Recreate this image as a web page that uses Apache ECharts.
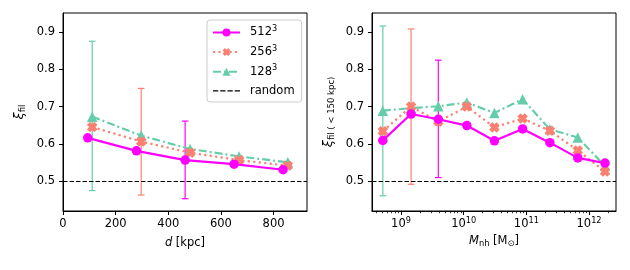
<!DOCTYPE html>
<html><head><meta charset="utf-8">
<script src="https://cdn.jsdelivr.net/npm/echarts@6/dist/echarts.min.js"></script>
<style>html,body{margin:0;padding:0;background:#fff}#c{width:630px;height:270px}</style>
</head><body><div id="c"></div>
<script>
// ---- Left panel data: xi_fil vs distance d [kpc]
const d512 = [94, 279, 464, 650, 836];
const xi512 = [0.616, 0.581, 0.556, 0.545, 0.530];
const d256 = [111, 297, 483, 669, 854];
const xi256 = [0.645, 0.606, 0.576, 0.556, 0.541];
const d128 = [111, 297, 483, 669, 854];
const xi128 = [0.673, 0.622, 0.586, 0.566, 0.550];
// error bars [d, low, high]
const errD128 = [111, 0.474, 0.876];
const errD256 = [297, 0.462, 0.749];
const errD512 = [464, 0.452, 0.661];

// ---- Right panel data: xi_fil(<150 kpc) vs log10 M_nh
const logMnh = [8.71, 9.16, 9.595, 10.05, 10.49, 10.94, 11.375, 11.82, 12.255];
const xiM512 = [0.609, 0.680, 0.666, 0.649, 0.608, 0.640, 0.603, 0.562, 0.548];
const xiM256 = [0.634, 0.700, 0.660, 0.700, 0.644, 0.668, 0.635, 0.582, 0.525];
const xiM128 = [0.689, 0.696, 0.701, 0.711, 0.683, 0.720, 0.639, 0.617, 0.540];
const errM128 = [8.71, 0.460, 0.917];
const errM256 = [9.16, 0.491, 0.909];
const errM512 = [9.595, 0.509, 0.825];

const randomLevel = 0.5;
const yTicks = [0.5, 0.6, 0.7, 0.8, 0.9];
const dTicks = [0, 200, 400, 600, 800];
const massDecades = [9, 10, 11, 12];
const minorMult = [2, 3, 4, 5, 6, 7, 8, 9];
const names = ['512', '256', '128', 'random'];

const C512 = '#ff00ff', C256 = '#fa8072', C128 = '#66cdaa';
const FONT = 'DejaVu Sans';
const xRangeL = [0, 927], xRangeR = [8.537, 12.43], yRange = [0.419, 0.952];

const minorTicks = [];
[8, 9, 10, 11, 12].forEach(n => minorMult.forEach(k => {
  const v = Math.log10(k) + n;
  if (v > xRangeR[0] && v < xRangeR[1]) minorTicks.push(v);
}));

const xShape = 'path://M-2,-5L0,-3L2,-5L5,-2L3,0L5,2L2,5L0,3L-2,5L-5,2L-3,0L-5,-2Z';
const dashIcon = 'path://M0,0h5.3v1.3h-5.3z M7.2,0h5.3v1.3h-5.3z M14.4,0h5.3v1.3h-5.3z M21.6,0h5.3v1.3h-5.3z';
const zip = (a, b) => a.map((v, i) => [v, b[i]]);

function errSeries(name, color, arr, xi, yi) {
  return {
    type: 'custom', name: name, xAxisIndex: xi, yAxisIndex: yi, z: 1,
    data: [arr], silent: true,
    renderItem: function (params, api) {
      const x = api.value(0), lo = api.value(1), hi = api.value(2);
      const a = api.coord([x, lo]), b = api.coord([x, hi]);
      const w = 3.3;
      const st = { stroke: color, lineWidth: 1.2, fill: null };
      return { type: 'group', children: [
        { type: 'line', shape: { x1: a[0], y1: a[1], x2: b[0], y2: b[1] }, style: st },
        { type: 'line', shape: { x1: a[0] - w, y1: a[1], x2: a[0] + w, y2: a[1] }, style: st },
        { type: 'line', shape: { x1: b[0] - w, y1: b[1], x2: b[0] + w, y2: b[1] }, style: st }
      ] };
    }
  };
}

function lineSeries(name, color, data, xi, yi, sym, dash, z) {
  return {
    type: 'line', name: name, xAxisIndex: xi, yAxisIndex: yi, z: z,
    data: data, symbol: sym, symbolSize: sym === 'circle' ? 9.5 : 10.5,
    showSymbol: true, animation: false,
    lineStyle: { color: color, width: 2.2, type: dash },
    itemStyle: { color: color, borderWidth: 0 }
  };
}

function randomSeries(xi, yi) {
  return {
    type: 'line', name: 'random', xAxisIndex: xi, yAxisIndex: yi, data: [], symbol: 'none', z: 0,
    lineStyle: { color: '#000', width: 1.2, type: [4.5, 2] },
    itemStyle: { color: '#000' },
    markLine: { silent: true, symbol: 'none', label: { show: false },
      lineStyle: { color: '#000', width: 1.2, type: [4.5, 2] },
      data: [{ yAxis: randomLevel }] }
  };
}

const axisLineStyle = { lineStyle: { color: '#000', width: 1 } };
const tickLabel = { color: '#000', fontFamily: FONT, fontSize: 11.5 };

function yAxis(gi, nameRich) {
  return {
    type: 'value', gridIndex: gi, min: yRange[0], max: yRange[1],
    axisLine: { show: true, ...axisLineStyle },
    axisTick: { show: true, length: 4, inside: false, customValues: yTicks, lineStyle: { color: '#000' } },
    axisLabel: { ...tickLabel, margin: 8, customValues: yTicks, formatter: v => v.toFixed(1) },
    splitLine: { show: false },
    name: nameRich, nameLocation: 'middle', nameRotate: 90, nameGap: 37,
    nameTextStyle: { color: '#000', fontFamily: FONT,
      rich: { i: { fontSize: 13, fontStyle: 'italic', fontFamily: FONT, color: '#000' },
              s: { fontSize: 8.5, fontFamily: FONT, color: '#000', padding: [0, 0, -6, 0] } } }
  };
}

const opt = {
  animation: false,
  textStyle: { fontFamily: FONT },
  grid: [
    { left: 63, top: 13, width: 244, height: 198, show: true, borderColor: '#000', borderWidth: 1, backgroundColor: 'transparent' },
    { left: 372, top: 13, width: 244, height: 198, show: true, borderColor: '#000', borderWidth: 1, backgroundColor: 'transparent' }
  ],
  xAxis: [
    { type: 'value', gridIndex: 0, min: xRangeL[0], max: xRangeL[1], position: 'bottom',
      axisLine: { show: true, ...axisLineStyle },
      axisTick: { show: true, length: 4, customValues: dTicks, lineStyle: { color: '#000' } },
      axisLabel: { ...tickLabel, margin: 7, customValues: dTicks },
      splitLine: { show: false },
      name: '{i|d} [kpc]', nameLocation: 'middle', nameGap: 26,
      nameTextStyle: { color: '#000', fontFamily: FONT, fontSize: 11.5,
        rich: { i: { fontStyle: 'italic', fontSize: 11.5, fontFamily: FONT, color: '#000' } } } },
    { type: 'value', gridIndex: 1, min: xRangeR[0], max: xRangeR[1], position: 'bottom',
      axisLine: { show: true, ...axisLineStyle },
      axisTick: { show: true, length: 4, customValues: massDecades, lineStyle: { color: '#000' } },
      axisLabel: { ...tickLabel, margin: 6, customValues: massDecades,
        formatter: v => '10{sup|' + Math.round(v) + '}',
        rich: { sup: { fontSize: 8.2, fontFamily: FONT, color: '#000', padding: [0, 0, 7, 0] } } },
      splitLine: { show: false },
      name: '{i|M}{s|nh} [M{s|⊙}]', nameLocation: 'middle', nameGap: 24,
      nameTextStyle: { color: '#000', fontFamily: FONT, fontSize: 11.5,
        rich: { i: { fontStyle: 'italic', fontSize: 11.5, fontFamily: FONT, color: '#000' },
                s: { fontSize: 8.3, fontFamily: FONT, color: '#000', padding: [0, 0, -4, 0] } } } },
    { type: 'value', gridIndex: 1, min: xRangeR[0], max: xRangeR[1], position: 'bottom', offset: 0,
      axisLine: { show: false },
      axisTick: { show: true, length: 2.2, customValues: minorTicks, lineStyle: { color: '#000', width: 0.8 } },
      axisLabel: { show: false }, splitLine: { show: false } }
  ],
  yAxis: [
    yAxis(0, '{i|ξ}{s|fil}'),
    yAxis(1, '{i|ξ}{s|fil ( < 150 kpc)}')
  ],
  legend: {
    data: names.map(n => n === 'random' ? { name: n, icon: dashIcon, itemStyle: { color: '#000' } } : n),
    orient: 'vertical', left: 207, top: 20,
    padding: [5, 7, 4, 5], itemGap: 5, itemWidth: 27, itemHeight: 10,
    backgroundColor: 'rgba(255,255,255,0.8)', borderColor: '#cccccc', borderWidth: 1, borderRadius: 3,
    formatter: n => n === 'random' ? n : n + '{sup|3}',
    textStyle: { color: '#000', fontFamily: FONT, fontSize: 11.5, lineHeight: 14.2, padding: [0, 0, 0, 5],
      rich: { sup: { fontSize: 8.2, fontFamily: FONT, color: '#000', padding: [0, 0, 7, 0] } } }
  },
  series: [
    randomSeries(0, 0),
    errSeries('e128', C128, errD128, 0, 0),
    errSeries('e256', C256, errD256, 0, 0),
    errSeries('e512', C512, errD512, 0, 0),
    lineSeries('128', C128, zip(d128, xi128), 0, 0, 'triangle', [8, 3, 2, 3], 3),
    lineSeries('256', C256, zip(d256, xi256), 0, 0, xShape, [2.2, 3.3], 4),
    lineSeries('512', C512, zip(d512, xi512), 0, 0, 'circle', 'solid', 5),
    randomSeries(1, 1),
    errSeries('f128', C128, errM128, 1, 1),
    errSeries('f256', C256, errM256, 1, 1),
    errSeries('f512', C512, errM512, 1, 1),
    lineSeries('128', C128, zip(logMnh, xiM128), 1, 1, 'triangle', [8, 3, 2, 3], 3),
    lineSeries('256', C256, zip(logMnh, xiM256), 1, 1, xShape, [2.2, 3.3], 4),
    lineSeries('512', C512, zip(logMnh, xiM512), 1, 1, 'circle', 'solid', 5)
  ]
};
const chart = echarts.init(document.getElementById('c'), null, { renderer: 'canvas' });
chart.setOption(opt);
</script></body></html>
